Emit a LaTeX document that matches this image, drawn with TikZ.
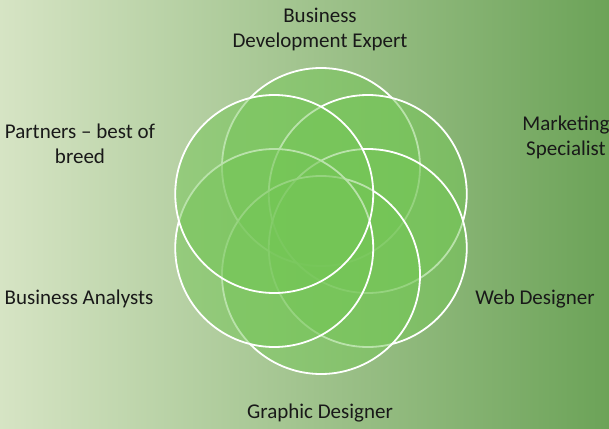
\documentclass[tikz,border=0pt]{standalone}
\usepackage{fontspec}
\setmainfont{Carlito}
\usetikzlibrary{calc}
\definecolor{fondoclaro}{RGB}{214,228,196}
\definecolor{fondomedio}{RGB}{186,205,152}
\definecolor{fondooscuro}{RGB}{108,163,88}
\definecolor{verdecirculo}{RGB}{116,198,86}
\tikzset{
    circulo/.style={circle, minimum size=198pt, inner sep=0pt, draw=white, line width=1.8pt,
        fill=verdecirculo, fill opacity=0.5, draw opacity=1},
    etiqueta/.style={align=center, text=black!90, font=\fontsize{21}{25}\selectfont}
}
\begin{document}
\begin{tikzpicture}[x=1pt, y=-1pt]
        % ~~~~ Fondo degradado ~~~~%
        \shade[left color=fondoclaro, middle color=fondomedio, right color=fondooscuro] (0,0) rectangle (609,428);
        \useasboundingbox (0,0) rectangle (609,428);

        % ~~~~ Circulos de los perfiles ~~~~%
        \coordinate (centro) at (321,221);
        \node[circulo] (bde) at ($(centro)+(270:54)$) {};
        \node[circulo] (mkt) at ($(centro)+(330:54)$) {};
        \node[circulo] (web) at ($(centro)+(30:54)$) {};
        \node[circulo] (gra) at ($(centro)+(90:54)$) {};
        \node[circulo] (ana) at ($(centro)+(150:54)$) {};
        \node[circulo] (par) at ($(centro)+(210:54)$) {};

        % ~~~~ Textos de los perfiles ~~~~%
        \node[etiqueta] (tbde) at (320,29) {Business\\Development Expert};
        \node[etiqueta] (tmkt) at (566,137) {Marketing\\Specialist};
        \node[etiqueta] (tweb) at (535,299) {Web Designer};
        \node[etiqueta] (tgra) at (320,413) {Graphic Designer};
        \node[etiqueta] (tana) at (79,299) {Business Analysts};
        \node[etiqueta] (tpar) at (80,144) {Partners -- best of\\breed};
    \end{tikzpicture}
\end{document}
